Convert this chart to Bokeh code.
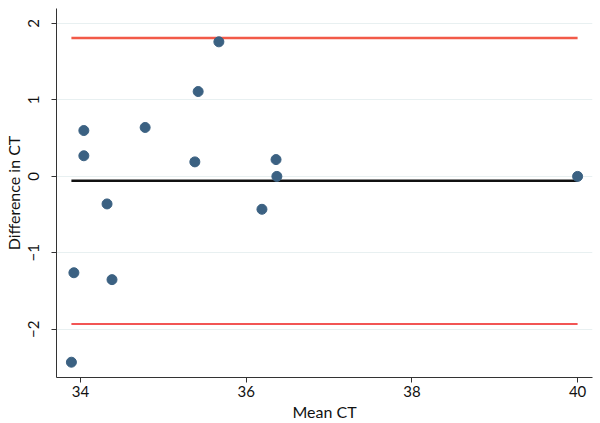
from bokeh.plotting import figure
from bokeh.models import Range1d, FixedTicker
from bokeh.embed import file_html
from bokeh.resources import INLINE

mean_ct = [33.89, 33.92, 34.04, 34.04, 34.32, 34.38, 34.78, 35.38, 35.42, 35.67, 36.19, 36.36, 36.37, 40.0]
diff_ct = [-2.43, -1.26, 0.27, 0.60, -0.36, -1.35, 0.64, 0.19, 1.11, 1.76, -0.43, 0.22, 0.0, 0.0]
mean_diff = -0.056
upper_loa = 1.81
lower_loa = -1.93
x_ticks = [34, 36, 38, 40]
y_ticks = [-2, -1, 0, 1, 2]
y_tick_labels = {-2: "\u22122", -1: "\u22121", 0: "0", 1: "1", 2: "2"}

FONT = "Lato"

p = figure(width=600, height=423, output_backend="svg", toolbar_location=None,
           x_range=Range1d(33.71, 40.18), y_range=Range1d(-2.63, 2.196),
           min_border_left=55, min_border_right=8, min_border_top=8, min_border_bottom=46)
p.outline_line_color = None
p.background_fill_color = "white"

xmin, xmax = min(mean_ct), max(mean_ct)
p.line([xmin, xmax], [upper_loa, upper_loa], line_color="#f25a48", line_width=2.5)
p.line([xmin, xmax], [lower_loa, lower_loa], line_color="#ee1c1c", line_width=1.3)
p.line([xmin, xmax], [mean_diff, mean_diff], line_color="#111111", line_width=2.5)
p.scatter(mean_ct, diff_ct, size=10, fill_color="#3b6182", line_color="#3b6182")

p.xgrid.visible = False
p.ygrid.ticker = FixedTicker(ticks=y_ticks)
p.ygrid.grid_line_color = "#e8f0f1"
p.ygrid.grid_line_width = 1

p.xaxis.ticker = FixedTicker(ticks=x_ticks)
p.yaxis.ticker = FixedTicker(ticks=y_ticks)
p.yaxis.major_label_overrides = y_tick_labels
p.yaxis.major_label_orientation = "vertical"
p.xaxis.axis_label = "Mean CT"
p.yaxis.axis_label = "Difference in CT"
for ax in (p.xaxis[0], p.yaxis[0]):
    ax.axis_label_text_font = FONT
    ax.axis_label_text_font_style = "normal"
    ax.axis_label_text_font_size = "16px"
    ax.axis_label_text_color = "#111111"
    ax.major_label_text_font = FONT
    ax.major_label_text_font_size = "15px"
    ax.major_label_text_color = "#111111"
    ax.minor_tick_line_color = None
    ax.major_tick_out = 5
    ax.major_tick_in = 0
    ax.axis_line_color = "#333333"
    ax.major_tick_line_color = "#333333"
p.xaxis.major_label_standoff = 3
p.xaxis.axis_label_standoff = 2
p.yaxis.major_label_standoff = 12
p.yaxis.axis_label_standoff = 3

open("out.html", "w").write(file_html(p, INLINE))
